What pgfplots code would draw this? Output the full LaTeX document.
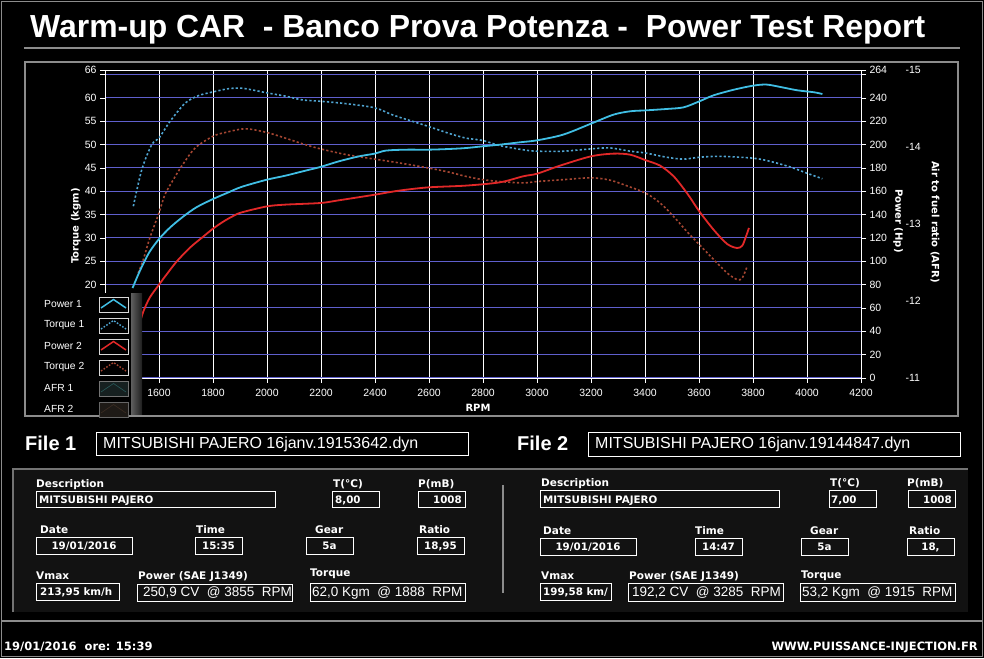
\documentclass[border=0pt]{standalone}
\usepackage{pgfplots}
\pgfplotsset{compat=1.18}
\usepackage{fontspec}
\setmainfont{Liberation Sans}
\newfontfamily\dv{DejaVu Sans}
\definecolor{pA}{RGB}{64,190,228}
\definecolor{tA}{RGB}{80,165,210}
\definecolor{pB}{RGB}{225,40,40}
\definecolor{tB}{RGB}{165,70,50}
\definecolor{gridb}{RGB}{95,95,205}
\definecolor{frm}{RGB}{140,140,140}
\definecolor{stripL}{RGB}{95,95,95}
\definecolor{stripR}{RGB}{30,30,30}
\definecolor{afrAf}{RGB}{22,32,32}
\definecolor{afrAl}{RGB}{40,90,90}
\definecolor{afrBf}{RGB}{30,26,22}
\definecolor{afrBl}{RGB}{60,45,35}
\newcommand\Bx[4]{\draw[white,line width=0.9pt] (#1,658-#2) rectangle (#3,658-#4);}
\tikzset{
 lab/.style={anchor=base west,inner sep=0,white,font=\dv\bfseries\fontsize{10.5}{12}\selectfont},
 val/.style={anchor=base west,inner sep=0,white,font=\dv\bfseries\fontsize{10.3}{12}\selectfont},
 big/.style={anchor=base west,inner sep=0,white,font=\fontsize{13.5}{16}\selectfont},
}
\pgfplotsset{
 common/.style={at={(105pt,280pt)},anchor=south west,scale only axis,width=756pt,height=308pt,
   xmin=1400,xmax=4200,tick align=outside,major tick length=5pt,
   tick style={white,line width=0.6pt},
   ticklabel style={white,font=\fontsize{10.5}{12}\selectfont}},
}
\begin{document}
\begin{tikzpicture}[x=1pt,y=1pt]
\useasboundingbox (0,0) rectangle (984,658);
\fill[black] (0,0) rectangle (984,658);
\draw[frm,line width=1pt] (1.5,1.5) rectangle (982.5,656.5);
% title
\node[anchor=base west,inner sep=0,white,font=\fontsize{31.9}{36}\selectfont\bfseries] at (30,658-38) {Warm-up CAR\ \ - Banco Prova Potenza -\ \ Power Test Report};
\draw[frm,line width=2pt] (24,658-48) -- (960,658-48);
\draw[frm,line width=2pt] (25,658-62) rectangle (958,658-416);

% torque axis
\begin{axis}[common,
 ymin=0,ymax=66,
 axis line style={white,line width=0.8pt},
 tick pos=left,
 xtick={1600,1800,...,4200},
 xticklabels={1600,1800,2000,2200,2400,2600,2800,3000,3200,3400,3600,3800,4000,4200},
 xticklabel style={yshift=-3pt},
 ytick={0,5,...,65},
 yticklabels={0,5,10,15,20,25,30,35,40,45,50,55,60,{}},
 extra y ticks={66}, extra y tick labels={66}, extra y tick style={grid=none},
 xmajorgrids, ymajorgrids,
 x grid style={white,line width=0.8pt},
 y grid style={gridb,line width=1pt},
]
\addplot[tA,line width=1.6pt,dash pattern=on 2.2pt off 2.2pt,smooth,tension=0.5] coordinates {
(1505,36.8)(1536,44.6)(1573,50.0)(1600,51.4)(1641,55.0)(1697,58.9)(1746,60.5)(1800,61.3)
(1858,62.0)(1907,62.1)(1957,61.6)(2000,61.1)(2068,60.4)(2130,59.6)(2198,59.3)(2291,58.8)
(2399,57.9)(2464,56.4)(2539,55.0)(2598,53.9)(2675,52.4)(2737,51.4)(2799,50.9)(2862,49.8)
(2949,48.9)(3000,48.6)(3097,48.6)(3200,49.1)(3270,49.3)(3345,48.6)(3403,48.2)(3481,47.3)
(3543,46.9)(3601,47.3)(3679,47.5)(3801,47.1)(3865,46.4)(3939,45.2)(3999,43.9)(4057,42.7)};
\addplot[tB,line width=1.6pt,dash pattern=on 2.2pt off 2.2pt,smooth,tension=0.5] coordinates {
(1523,22.5)(1542,25.4)(1566,30.0)(1600,35.4)(1622,39.3)(1653,42.5)(1684,45.4)(1734,49.3)(1800,51.8)
(1845,52.6)(1920,53.4)(2000,52.6)(2068,51.4)(2142,50.0)(2198,49.1)(2291,47.9)(2399,46.9)
(2489,46.1)(2598,45.0)(2675,44.1)(2737,43.2)(2800,42.5)(2862,42.1)(2949,41.8)(3000,42.1)
(3097,42.5)(3200,42.9)(3270,42.4)(3332,41.2)(3403,39.6)(3456,37.5)(3506,34.6)(3555,31.4)
(3601,28.6)(3654,25.4)(3704,22.5)(3741,21.1)(3760,21.4)(3778,23.9)};
\end{axis}

% power axis
\begin{axis}[common,
 ymin=0,ymax=264,
 axis y line*=right, hide x axis,
 y axis line style={white,line width=0.8pt},
 ytick={0,20,...,260},
 yticklabels={0,20,40,60,80,100,120,140,160,180,200,220,240,{}},
 extra y ticks={264}, extra y tick labels={264},
]
\addplot[pA,line width=1.8pt,smooth,tension=0.5] coordinates {
(1502,77.1)(1523,88.6)(1542,98.0)(1566,108.5)(1600,119.1)(1641,129.0)(1691,138.6)(1740,146.5)
(1800,153.4)(1852,158.6)(1907,163.9)(2000,170.0)(2068,173.4)(2142,177.7)(2198,180.9)(2266,185.7)(2341,190.0)
(2399,192.3)(2440,194.9)(2514,195.7)(2598,195.7)(2675,196.3)(2737,197.1)(2799,198.6)(2862,200.0)
(2936,202.0)(3000,203.7)(3097,208.6)(3200,218.0)(3283,225.7)(3345,228.6)(3403,229.4)(3481,230.6)
(3543,232.0)(3601,237.1)(3654,242.3)(3729,247.1)(3801,250.6)(3850,251.5)(3902,249.4)(3964,246.6)
(4026,244.9)(4057,243.4)};
\addplot[pB,line width=1.8pt,smooth,tension=0.5] coordinates {
(1529,47.0)(1542,57.0)(1566,69.0)(1600,80.0)(1629,89.0)(1666,100.0)(1716,112.0)(1765,121.4)
(1800,128.0)(1840,134.3)(1877,139.1)(1907,142.0)(2000,147.1)(2068,148.6)(2198,150.0)(2266,152.3)(2399,157.1)(2489,160.6)
(2598,163.4)(2737,164.9)(2862,167.7)(2949,172.9)(3000,175.1)(3085,182.0)(3200,190.0)(3283,192.3)
(3345,191.4)(3403,186.6)(3456,182.0)(3506,172.9)(3555,158.6)(3601,142.9)(3654,127.1)(3704,114.9)
(3741,111.4)(3760,113.4)(3772,120.0)(3785,128.6)};
\end{axis}

% AFR axis
\begin{axis}[common,
 ymin=11,ymax=15,
 axis y line*=right, hide x axis,
 y axis line style={draw=none},
 major tick length=0pt,
 ytick={11,12,13,14,15},
 yticklabels={-11,-12,-13,-14,-15},
 yticklabel style={xshift=41pt},
]
\end{axis}

% axis titles
\node[white,font=\dv\bfseries\fontsize{10}{12}\selectfont] at (478,658-408) {RPM};
\node[white,rotate=90,font=\dv\bfseries\fontsize{10}{12}\selectfont] at (76,658-226) {Torque (kgm)};
\node[white,rotate=-90,font=\dv\bfseries\fontsize{10}{12}\selectfont] at (898,658-221) {Power (Hp)};
\node[white,rotate=-90,font=\dv\bfseries\fontsize{10}{12}\selectfont] at (935,658-222) {Air to fuel ratio (AFR)};

% legend
\fill[black] (26,658-293) rectangle (142,658-415);
\shade[left color=stripL,right color=stripR] (131,658-294) rectangle (142,658-415);
\foreach \t/\i in {Power 1/0,Torque 1/1,Power 2/2,Torque 2/3,AFR 1/4,AFR 2/5}{
  \node[anchor=west,inner sep=0,white,font=\fontsize{10.3}{12}\selectfont] at (44,658-304-21*\i) {\t};
}
\draw[white!85!black,line width=0.8pt] (99,658-297) rectangle (128,658-312);
\draw[pA,line width=1.5pt] (101,658-308) -- (113.5,658-299.5) -- (126,658-308);
\draw[white!85!black,line width=0.8pt] (99,658-318) rectangle (128,658-333);
\draw[tA,line width=1.4pt,dash pattern=on 1.6pt off 1.6pt] (101,658-329) -- (113.5,658-320.5) -- (126,658-329);
\draw[white!85!black,line width=0.8pt] (99,658-339) rectangle (128,658-354);
\draw[pB,line width=1.5pt] (101,658-350) -- (113.5,658-341.5) -- (126,658-350);
\draw[white!85!black,line width=0.8pt] (99,658-360) rectangle (128,658-375);
\draw[tB,line width=1.4pt,dash pattern=on 1.6pt off 1.6pt] (101,658-371) -- (113.5,658-362.5) -- (126,658-371);
\filldraw[draw=white!45!black,fill=afrAf,line width=0.8pt] (99,658-381) rectangle (128,658-396);
\draw[afrAl,line width=0.6pt] (101,658-392) -- (113.5,658-383.5) -- (126,658-392);
\filldraw[draw=white!40!black,fill=afrBf,line width=0.8pt] (99,658-402) rectangle (128,658-417);
\draw[afrBl,line width=0.6pt] (101,658-413) -- (113.5,658-404.5) -- (126,658-413);

% file headers
\node[anchor=base west,inner sep=0,white,font=\fontsize{20}{24}\selectfont\bfseries] at (25,658-451) {File 1};
\Bx{96}{432}{468}{455}
\node[anchor=base west,inner sep=0,white,font=\fontsize{16}{18}\selectfont] at (103,658-449) {MITSUBISHI PAJERO 16janv.19153642.dyn};
\node[anchor=base west,inner sep=0,white,font=\fontsize{20}{24}\selectfont\bfseries] at (517,658-451) {File 2};
\Bx{588}{432}{960}{456}
\node[anchor=base west,inner sep=0,white,font=\fontsize{16}{18}\selectfont] at (595,658-449) {MITSUBISHI PAJERO 16janv.19144847.dyn};

% panel
\draw[frm,line width=1.5pt] (1.5,658-621) -- (982.5,658-621);
\fill[black!93] (13,658-469) rectangle (968,658-612);
\draw[black!55,line width=2.5pt] (13,658-612) -- (13,658-469) -- (968,658-469);
\draw[black!45,line width=2pt] (503,658-485) -- (503,658-593);

% File 1 fields
\node[lab] at (36,658-487.5) {Description};
\Bx{36}{491}{275}{507}
\node[val] at (39,658-504) {MITSUBISHI PAJERO};
\node[lab] at (333,658-487.5) {T(°C)};
\Bx{332}{491}{379}{507}
\node[val] at (335,658-504) {8,00};
\node[lab] at (418,658-487.5) {P(mB)};
\Bx{418}{491}{465}{507}
\node[val,anchor=base east] at (462,658-504) {1008};
\node[lab] at (40,658-534) {Date};
\Bx{36}{537}{132}{554}
\node[val,anchor=base] at (84,658-550) {19/01/2016};
\node[lab] at (196,658-534) {Time};
\Bx{195}{537}{242}{554}
\node[val,anchor=base] at (218.5,658-550) {15:35};
\node[lab] at (315,658-534) {Gear};
\Bx{306}{537}{353}{554}
\node[val,anchor=base] at (329.5,658-550) {5a};
\node[lab] at (419,658-534) {Ratio};
\Bx{417}{537}{464}{554}
\node[val,anchor=base] at (440.5,658-550) {18,95};
\node[lab] at (36,658-580) {Vmax};
\Bx{36}{583}{119}{600}
\node[val] at (40,658-596) {213,95 km/h};
\node[lab] at (138,658-580) {Power (SAE J1349)};
\Bx{137}{584}{292}{601}
\node[big] at (143,658-597) {250,9 CV\ \ @ 3855\ \ RPM};
\node[lab] at (310,658-577) {Torque};
\Bx{310}{583}{465}{601}
\node[big] at (312,658-597) {62,0 Kgm\ \ @ 1888\ \ RPM};

% File 2 fields
\node[lab] at (541,658-487) {Description};
\Bx{540}{490}{779}{507}
\node[val] at (543,658-504) {MITSUBISHI PAJERO};
\node[lab] at (830,658-487) {T(°C)};
\Bx{829}{490}{876}{507}
\node[val] at (831,658-504) {7,00};
\node[lab] at (907,658-487) {P(mB)};
\Bx{908}{490}{955}{507}
\node[val,anchor=base east] at (952,658-504) {1008};
\node[lab] at (543,658-535) {Date};
\Bx{540}{538}{636}{555}
\node[val,anchor=base] at (588,658-551) {19/01/2016};
\node[lab] at (695,658-535) {Time};
\Bx{695}{538}{742}{555}
\node[val,anchor=base] at (718.5,658-551) {14:47};
\node[lab] at (810,658-535) {Gear};
\Bx{801}{538}{848}{555}
\node[val,anchor=base] at (824.5,658-551) {5a};
\node[lab] at (909,658-535) {Ratio};
\Bx{907}{538}{954}{555}
\node[val,anchor=base] at (930.5,658-551) {18,};
\node[lab] at (541,658-580) {Vmax};
\Bx{540}{583}{611}{600}
\node[val] at (543,658-596) {199,58 km/};
\node[lab] at (629,658-580) {Power (SAE J1349)};
\Bx{628}{583}{783}{601}
\node[big] at (632,658-597) {192,2 CV\ \ @ 3285\ \ RPM};
\node[lab] at (801,658-579) {Torque};
\Bx{800}{583}{955}{601}
\node[big] at (802,658-597) {53,2 Kgm\ \ @ 1915\ \ RPM};

% footer
\node[anchor=base west,inner sep=0,white,font=\dv\bfseries\fontsize{11.5}{13}\selectfont] at (4,658-650) {19/01/2016\ \ ore: 15:39};
\node[anchor=base east,inner sep=0,white,font=\dv\bfseries\fontsize{11.5}{13}\selectfont] at (978,658-650) {WWW.PUISSANCE-INJECTION.FR};
\end{tikzpicture}
\end{document}
